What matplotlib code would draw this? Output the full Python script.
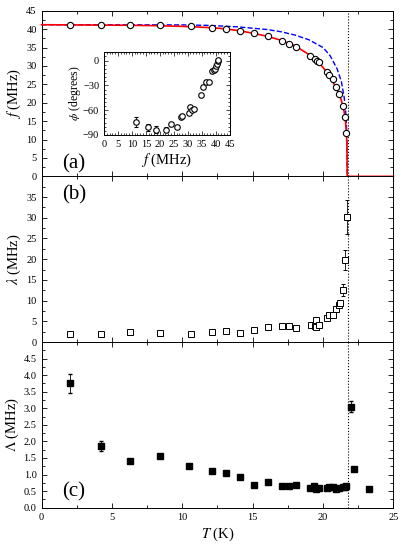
import matplotlib
matplotlib.use("Agg")
import matplotlib.pyplot as plt
from matplotlib.ticker import MultipleLocator

plt.rcParams["font.family"] = "Liberation Serif"
plt.rcParams["mathtext.fontset"] = "stix"
plt.rcParams["xtick.direction"] = "in"
plt.rcParams["ytick.direction"] = "in"

# transition temperature (dotted line)
t_c = 21.75

# panel (a): precession frequency
t_f = [2.0, 4.2, 6.3, 8.45, 10.6, 12.1, 13.1, 14.1, 15.1, 16.1, 17.1, 17.6, 18.1,
       19.1, 19.4, 19.55, 19.7, 20.3, 20.45, 20.7, 20.95, 21.15, 21.4, 21.55, 21.66]
f_vals = [41.1, 41.1, 41.1, 41.0, 40.9, 40.4, 40.1, 39.6, 38.9, 38.0, 36.8, 35.9, 35.1,
          32.6, 31.8, 31.4, 31.1, 28.3, 27.6, 26.4, 24.4, 22.3, 19.0, 16.0, 11.7]

# fitted curves
t_red = [0, 2, 4, 6, 8, 10, 12, 13, 14, 15, 16, 17, 18, 19, 19.5, 20, 20.5, 21,
         21.3, 21.5, 21.6, 21.66, 21.7, 21.72, 25]
f_red = [41.2, 41.15, 41.1, 41.05, 40.95, 40.75, 40.4, 40.1, 39.6, 38.9, 38.1, 37.0,
         35.5, 33.1, 31.5, 29.6, 27.0, 23.6, 20.7, 17.6, 14.8, 11.8, 8.0, 0, 0]
t_blue = [0, 10, 12, 14, 16, 17, 18, 19, 20, 20.5, 21, 21.3, 21.5, 21.6, 21.66,
          21.7, 21.72]
f_blue = [41.2, 41.15, 41.0, 40.6, 39.9, 39.3, 38.4, 37.1, 35.0, 32.8, 29.2, 25.8,
          21.5, 18.0, 14.5, 9.5, 0]

# inset: phase vs frequency
phi_f = [11.5, 15.7, 18.8, 22.1, 23.9, 26.0, 27.5, 28.0, 30.6, 30.9, 31.5, 32.4,
         34.8, 35.6, 36.5, 37.7, 38.7, 39.3, 39.8, 40.2, 40.4, 40.7, 40.9]
phi_vals = [-74.6, -80.7, -83.5, -83.5, -77, -80.7, -68, -67, -63, -56.6, -59.5, -59,
            -42, -31.8, -26, -26, -12.6, -12, -10, -6.9, -4, -1, 0.5]
phi_err = [6, 4, 4, 3, 2, 2, 2, 2, 2, 2, 2, 2, 2, 2, 2, 2, 2, 2, 2, 2, 2, 2, 2]

# panel (b): transverse relaxation rate
t_lam = [2.0, 4.2, 6.3, 8.45, 10.6, 12.1, 13.1, 14.1, 15.1, 16.1, 17.1, 17.6, 18.1,
         19.15, 19.4, 19.5, 19.53, 19.72, 20.29, 20.45, 20.69, 20.95, 21.12, 21.19,
         21.42, 21.56, 21.68]
lam_vals = [2.0, 1.9, 2.3, 2.2, 1.85, 2.4, 2.65, 2.2, 3.0, 3.6, 3.8, 3.8, 3.5,
            4.2, 3.9, 3.6, 5.4, 4.2, 5.9, 6.5, 6.5, 8.0, 8.9, 9.3, 12.6, 19.8, 30.2]
lam_err = [0.2] * 24 + [1.4, 2.3, 4.1]

# panel (c): longitudinal relaxation rate
t_Lam = [2.0, 4.2, 6.3, 8.4, 10.5, 12.1, 13.1, 14.1, 15.1, 16.1, 17.1, 17.6, 18.1,
         19.1, 19.35, 19.5, 19.7, 20.3, 20.45, 20.7, 20.95, 21.15, 21.4, 21.55, 21.65,
         21.97, 22.18, 23.3]
Lam_vals = [3.75, 1.86, 1.40, 1.55, 1.25, 1.11, 1.04, 0.94, 0.68, 0.77, 0.66, 0.66,
            0.69, 0.59, 0.64, 0.57, 0.59, 0.58, 0.62, 0.62, 0.56, 0.6, 0.62, 0.63, 0.64,
            3.05, 1.17, 0.56]
Lam_err = [0.29, 0.16, 0.05, 0.05] + [0.02] * 21 + [0.17, 0.02, 0.02]

fig = plt.figure(figsize=(4.15, 5.5), dpi=100)
gs = fig.add_gridspec(3, 1, left=0.1, right=0.948, top=0.9805, bottom=0.077, hspace=0)
ax_a = fig.add_subplot(gs[0])
ax_b = fig.add_subplot(gs[1], sharex=ax_a)
ax_c = fig.add_subplot(gs[2], sharex=ax_a)

for ax in (ax_a, ax_b, ax_c):
    ax.tick_params(which="both", top=True, right=True, labelsize=7.5, width=0.6)
    ax.tick_params(which="major", length=3.5)
    ax.tick_params(which="minor", length=2)
    ax.xaxis.set_major_locator(MultipleLocator(5))
    ax.xaxis.set_minor_locator(MultipleLocator(2.5))
    ax.axvline(t_c, color="black", linestyle=":", linewidth=0.8)
    for sp in ax.spines.values():
        sp.set_linewidth(0.7)

# (a)
ax_a.plot(t_blue, f_blue, color="blue", linestyle="--", linewidth=1.0)
ax_a.plot(t_red, f_red, color="red", linewidth=1.2, clip_on=False, zorder=3)
ax_a.plot(t_f, f_vals, "o", mfc="white", mec="black", ms=4.5, mew=0.8, zorder=4)
ax_a.set_xlim(0, 25)
ax_a.set_ylim(0, 45)
ax_a.yaxis.set_major_locator(MultipleLocator(5))
ax_a.yaxis.set_minor_locator(MultipleLocator(2.5))
ax_a.set_ylabel("$f$ (MHz)", fontsize=10.5, labelpad=2)
ax_a.text(0.058, 0.05, "(a)", transform=ax_a.transAxes, fontsize=15)
plt.setp(ax_a.get_xticklabels(), visible=False)

# inset
ins = fig.add_axes([104 / 415, 1 - 135 / 550, 125.5 / 415, 82.7 / 550])
ins.errorbar(phi_f, phi_vals, yerr=phi_err, fmt="o", mfc="white", mec="black",
             ecolor="black", ms=4, mew=0.8, elinewidth=0.6, capsize=1.5)
ins.set_xlim(0, 45)
ins.set_ylim(-90, 10)
ins.xaxis.set_major_locator(MultipleLocator(5))
ins.xaxis.set_minor_locator(MultipleLocator(1))
ins.yaxis.set_major_locator(MultipleLocator(30))
ins.yaxis.set_minor_locator(MultipleLocator(5))
ins.tick_params(which="both", top=True, right=True, labelsize=7.5, width=0.5)
ins.tick_params(which="major", length=3)
ins.tick_params(which="minor", length=1.5)
for sp in ins.spines.values():
    sp.set_linewidth(0.7)
ins.set_xlabel("$f$ (MHz)", fontsize=10.5, labelpad=2)
ins.set_ylabel(r"$\phi$ (degrees)", fontsize=8.5, labelpad=0)

# (b)
ax_b.errorbar(t_lam, lam_vals, yerr=lam_err, fmt="s", mfc="white", mec="black",
              ecolor="black", ms=3.8, mew=0.7, elinewidth=0.6, capsize=1.5)
ax_b.set_ylim(0, 40)
ax_b.set_yticks([0, 5, 10, 15, 20, 25, 30, 35])
ax_b.yaxis.set_minor_locator(MultipleLocator(2.5))
ax_b.set_ylabel(r"$\lambda$ (MHz)", fontsize=10.5, labelpad=2)
ax_b.text(0.058, 0.945, "(b)", transform=ax_b.transAxes, fontsize=15, va="top")
plt.setp(ax_b.get_xticklabels(), visible=False)

# (c)
ax_c.errorbar(t_Lam, Lam_vals, yerr=Lam_err, fmt="s", color="black",
              ms=3.8, elinewidth=0.6, capsize=1.5)
ax_c.set_ylim(0, 5)
ax_c.set_yticks([0, 0.5, 1.0, 1.5, 2.0, 2.5, 3.0, 3.5, 4.0, 4.5])
ax_c.yaxis.set_major_formatter(plt.FormatStrFormatter("%.1f"))
ax_c.yaxis.set_minor_locator(MultipleLocator(0.25))
ax_c.set_ylabel(r"$\Lambda$ (MHz)", fontsize=10.5, labelpad=2)
ax_c.set_xlabel("$T$ (K)", fontsize=10.5, labelpad=3)
ax_c.text(0.058, 0.04, "(c)", transform=ax_c.transAxes, fontsize=15, va="bottom")

fig.savefig("out.png", dpi=100)
